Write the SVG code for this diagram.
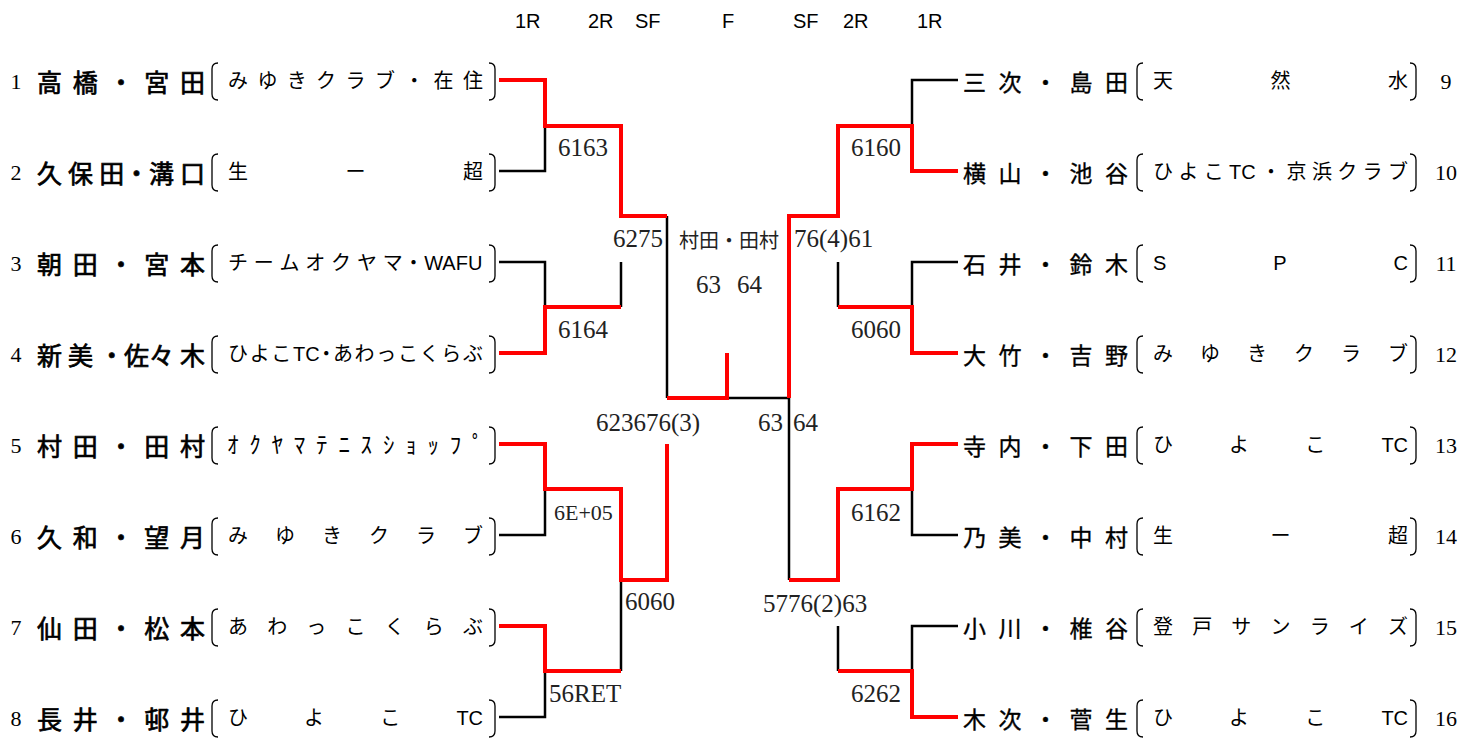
<svg xmlns="http://www.w3.org/2000/svg" xmlns:xlink="http://www.w3.org/1999/xlink" width="1480" height="740" viewBox="0 0 1480 740">
<style>
.cb{fill:none;stroke:#000;stroke-width:2.5}
.cr{fill:none;stroke:#f00;stroke-width:4}
.nl{font-family:"Noto Sans CJK JP",sans-serif;font-size:25px;font-weight:normal;stroke:#000;stroke-width:0.7;dominant-baseline:central}
.nr{font-family:"Noto Sans CJK JP",sans-serif;font-size:23px;font-weight:normal;stroke:#000;stroke-width:0.35;dominant-baseline:central}
.club{font-family:"Liberation Sans","Noto Sans CJK JP",sans-serif;font-size:20px;dominant-baseline:central}
.num{font-family:"Liberation Serif",serif;font-size:22px;text-anchor:middle;dominant-baseline:central}
.sc{font-family:"Liberation Serif",serif;font-size:25px;fill:#222}
.scj{font-family:"Noto Sans CJK JP",sans-serif;font-size:20px;fill:#222;dominant-baseline:central}
.hdr{font-family:"Liberation Sans",sans-serif;font-size:20px}
.br{fill:none;stroke:#000;stroke-width:1.3}
</style>
<defs>
<path id="lb" class="br" d="M6,0 Q0,0 0,6 V31 Q0,37 6,37"/>
<path id="rb" class="br" d="M0,0 Q6,0 6,6 V31 Q6,37 0,37"/>
</defs>
<rect width="1480" height="740" fill="#fff"/>
<g id="header" class="hdr">
<text x="515" y="28">1R</text>
<text x="588" y="28">2R</text>
<text x="635" y="28">SF</text>
<text x="722" y="28">F</text>
<text x="793" y="28">SF</text>
<text x="843" y="28">2R</text>
<text x="917" y="28">1R</text>
</g>
<g id="connectors">
<path class="cb" d="M499 171 H545 V126"/>
<path class="cb" d="M499 262 H545 V307"/>
<path class="cb" d="M621 307 V262"/>
<path class="cb" d="M667 216 V398"/>
<path class="cb" d="M727 398 H789 V580"/>
<path class="cb" d="M912 126 V80 H958"/>
<path class="cb" d="M838 262 V307"/>
<path class="cb" d="M912 307 V262 H958"/>
<path class="cb" d="M545 489 V535 H499"/>
<path class="cb" d="M545 671 V717 H499"/>
<path class="cb" d="M621 671 V580"/>
<path class="cb" d="M912 489 V535 H958"/>
<path class="cb" d="M838 626 V671"/>
<path class="cb" d="M912 671 V626 H958"/>
<path class="cr" d="M499 80 H545 V126 H621 V216 H667"/>
<path class="cr" d="M499 353 H545 V307 H621"/>
<path class="cr" d="M667 398 H727 V353"/>
<path class="cr" d="M789 398 V216 H838 V126 H912 V171 H958"/>
<path class="cr" d="M838 307 H912 V353 H958"/>
<path class="cr" d="M499 444 H545 V489 H621 V580 H667 V444"/>
<path class="cr" d="M499 626 H545 V671 H621"/>
<path class="cr" d="M789 580 H838 V489 H912 V444 H958"/>
<path class="cr" d="M838 671 H912 V717 H958"/>
</g>
<g id="scores">
<text class="sc" x="558" y="156">6163</text>
<text class="sc" x="558" y="338">6164</text>
<text class="sc" x="613" y="247">6275</text>
<text class="scj" x="679" y="239">村田・田村</text>
<text class="sc" x="696 708.5 721 737 749.5" y="293">63 64</text>
<text class="sc" x="794" y="247">76(4)61</text>
<text class="sc" x="851" y="156">6160</text>
<text class="sc" x="851" y="338">6060</text>
<text class="sc" x="596" y="431">623676(3)</text>
<text class="sc" x="758 770.5 783 793 805.5" y="431">63 64</text>
<text class="sc" x="554" y="520" style="font-size:22px">6E+05</text>
<text class="sc" x="625" y="610">6060</text>
<text class="sc" x="549" y="702">56RET</text>
<text class="sc" x="851" y="521">6162</text>
<text class="sc" x="763" y="612">5776(2)63</text>
<text class="sc" x="851" y="702">6262</text>
</g>
<g id="n1">
<text class="num" x="16" y="81">1</text>
<text class="nl" x="37 72.75 108.5 144.25 180" y="81">高橋・宮田</text>
<use href="#lb" x="212" y="63"/><use href="#rb" x="489" y="63"/>
<text class="club" x="228 257.4 286.8 316.1 345.5 374.9 404.3 433.6 463" y="81">みゆきクラブ・在住</text>
</g>
<g id="n2">
<text class="num" x="16" y="172">2</text>
<text class="nl" x="37 68.1 99.2 124 148.9 180" y="172">久保田・溝口</text>
<use href="#lb" x="212" y="154"/><use href="#rb" x="489" y="154"/>
<text class="club" x="228 345.5 463" y="172">生ー超</text>
</g>
<g id="n3">
<text class="num" x="16" y="263">3</text>
<text class="nl" x="37 72.75 108.5 144.25 180" y="263">朝田・宮本</text>
<use href="#lb" x="212" y="245"/><use href="#rb" x="489" y="245"/>
<text class="club" x="228 253.8 279.6 305.3 331.1 356.9 382.7 403.4 424.2" y="263">チームオクヤマ・WAFU</text>
</g>
<g id="n4">
<text class="num" x="16" y="354">4</text>
<text class="nl" x="37 68.1 99.2 124 148.9 180" y="354">新美・佐々木</text>
<use href="#lb" x="212" y="336"/><use href="#rb" x="489" y="336"/>
<text class="club" x="228 249.7 271.3 293 305.2 316.3 332.9 354.6 376.3 397.9 419.6 441.3 462.9" y="354">ひよこTC・あわっこくらぶ</text>
</g>
<g id="n5">
<text class="num" x="16" y="445">5</text>
<text class="nl" x="37 72.75 108.5 144.25 180" y="445">村田・田村</text>
<use href="#lb" x="212" y="427"/><use href="#rb" x="489" y="427"/>
<text class="club" style="font-size:23px" x="227 249.3 271.5 293.8 316.1 338.4 360.6 382.9 405.2 427.5 449.7 472" y="445">ｵｸﾔﾏﾃﾆｽｼｮｯﾌﾟ</text>
</g>
<g id="n6">
<text class="num" x="16" y="536">6</text>
<text class="nl" x="37 72.75 108.5 144.25 180" y="536">久和・望月</text>
<use href="#lb" x="212" y="518"/><use href="#rb" x="489" y="518"/>
<text class="club" x="228 275 322 369 416 463" y="536">みゆきクラブ</text>
</g>
<g id="n7">
<text class="num" x="16" y="627">7</text>
<text class="nl" x="37 72.75 108.5 144.25 180" y="627">仙田・松本</text>
<use href="#lb" x="212" y="609"/><use href="#rb" x="489" y="609"/>
<text class="club" x="228 267.2 306.3 345.5 384.7 423.8 463" y="627">あわっこくらぶ</text>
</g>
<g id="n8">
<text class="num" x="16" y="718">8</text>
<text class="nl" x="37 72.75 108.5 144.25 180" y="718">長井・邨井</text>
<use href="#lb" x="212" y="700"/><use href="#rb" x="489" y="700"/>
<text class="club" x="228 304.1 380.3 456.4" y="718">ひよこTC</text>
</g>
<g id="n9">
<text class="nr" x="963 998.5 1034 1069.5 1105" y="81">三次・島田</text>
<use href="#lb" x="1137" y="63"/><use href="#rb" x="1410" y="63"/>
<text class="club" x="1153 1270.5 1388" y="81">天然水</text>
<text class="num" x="1446" y="81">9</text>
</g>
<g id="n10">
<text class="nr" x="963 998.5 1034 1069.5 1105" y="172">横山・池谷</text>
<use href="#lb" x="1137" y="154"/><use href="#rb" x="1410" y="154"/>
<text class="club" x="1153 1178.4 1203.8 1229.1 1241.3 1261.1 1286.5 1311.9 1337.2 1362.6 1388" y="172">ひよこTC・京浜クラブ</text>
<text class="num" x="1446" y="172">10</text>
</g>
<g id="n11">
<text class="nr" x="963 998.5 1034 1069.5 1105" y="263">石井・鈴木</text>
<use href="#lb" x="1137" y="245"/><use href="#rb" x="1410" y="245"/>
<text class="club" x="1153 1273.3 1393.6" y="263">SPC</text>
<text class="num" x="1446" y="263">11</text>
</g>
<g id="n12">
<text class="nr" x="963 998.5 1034 1069.5 1105" y="354">大竹・吉野</text>
<use href="#lb" x="1137" y="336"/><use href="#rb" x="1410" y="336"/>
<text class="club" x="1153 1200 1247 1294 1341 1388" y="354">みゆきクラブ</text>
<text class="num" x="1446" y="354">12</text>
</g>
<g id="n13">
<text class="nr" x="963 998.5 1034 1069.5 1105" y="445">寺内・下田</text>
<use href="#lb" x="1137" y="427"/><use href="#rb" x="1410" y="427"/>
<text class="club" x="1153 1229.1 1305.3 1381.4" y="445">ひよこTC</text>
<text class="num" x="1446" y="445">13</text>
</g>
<g id="n14">
<text class="nr" x="963 998.5 1034 1069.5 1105" y="536">乃美・中村</text>
<use href="#lb" x="1137" y="518"/><use href="#rb" x="1410" y="518"/>
<text class="club" x="1153 1270.5 1388" y="536">生ー超</text>
<text class="num" x="1446" y="536">14</text>
</g>
<g id="n15">
<text class="nr" x="963 998.5 1034 1069.5 1105" y="627">小川・椎谷</text>
<use href="#lb" x="1137" y="609"/><use href="#rb" x="1410" y="609"/>
<text class="club" x="1153 1192.2 1231.3 1270.5 1309.7 1348.8 1388" y="627">登戸サンライズ</text>
<text class="num" x="1446" y="627">15</text>
</g>
<g id="n16">
<text class="nr" x="963 998.5 1034 1069.5 1105" y="718">木次・菅生</text>
<use href="#lb" x="1137" y="700"/><use href="#rb" x="1410" y="700"/>
<text class="club" x="1153 1229.1 1305.3 1381.4" y="718">ひよこTC</text>
<text class="num" x="1446" y="718">16</text>
</g>
</svg>
